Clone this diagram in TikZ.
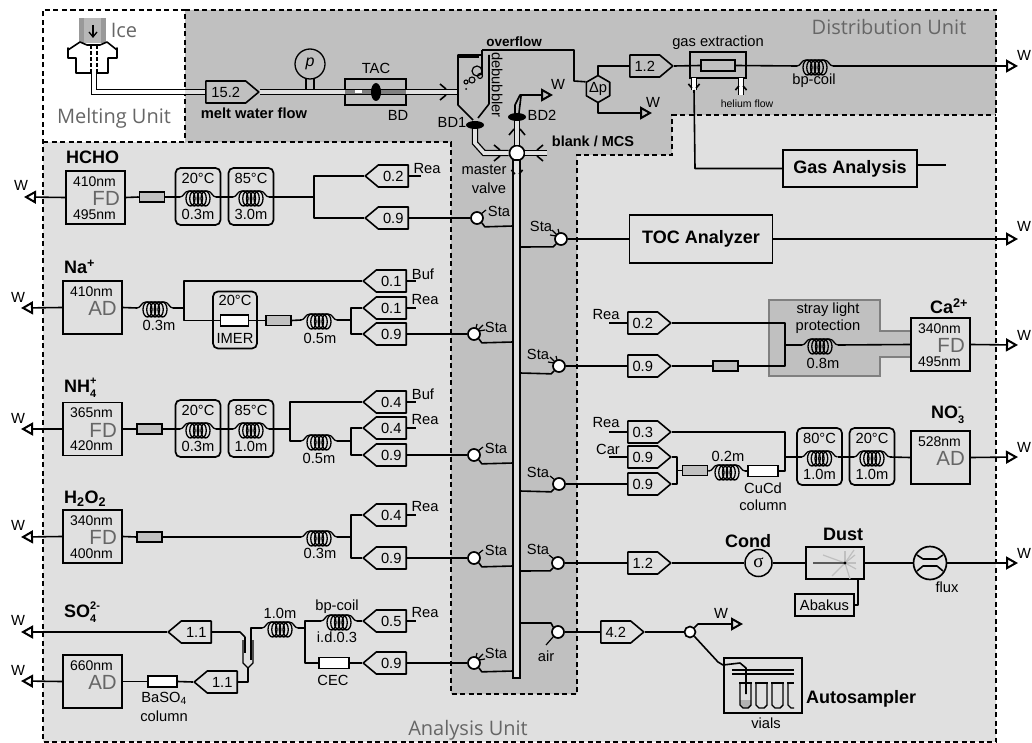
\documentclass[tikz,border=0pt]{standalone}
\usepackage{fontspec}
\setmainfont{Liberation Sans}
\newfontfamily\unitfont{Open Sans}
\newfontfamily\sigmafont{Liberation Serif}
\usetikzlibrary{arrows.meta,shapes.geometric,shapes.symbols}
\definecolor{bgA}{HTML}{E0E0E0}
\definecolor{bgB}{HTML}{C0C0C0}
\definecolor{greytext}{HTML}{666666}
\newcommand{\subsup}[2]{\rlap{\raisebox{8pt}{\fontsize{11}{12}\selectfont #2}}\raisebox{-4.5pt}{\fontsize{11}{12}\selectfont #1}}

\begin{document}
\begin{tikzpicture}[
    x=1pt, y=-1pt,
    flow/.style={line width=1.6pt, line join=round},
    waste/.style={flow, -{Triangle[open, length=12pt, width=13pt, line width=2pt]}},
    dbl/.style={draw=black, line width=1.3pt, double=#1, double distance=3.6pt},
    dbl/.default=bgA,
    unit/.style={line width=1.4pt, dash pattern=on 5pt off 3.5pt},
    unitname/.style={font=\unitfont\fontsize{20}{22}\selectfont, text=greytext, inner sep=0pt},
    txt/.style={font=\fontsize{14.7}{16}\selectfont, inner sep=0pt},
    bold/.style={font=\bfseries\fontsize{13.5}{15}\selectfont, inner sep=0pt},
    species/.style={font=\bfseries\fontsize{18}{19}\selectfont, inner sep=0pt, anchor=west},
    pumpr/.style={shape=signal, signal to=east, signal from=nowhere, signal pointer angle=80, draw, fill=bgA, flow, minimum width=43pt, minimum height=22pt, inner sep=0pt, anchor=west, font=\fontsize{14.7}{16}\selectfont},
    pumpl/.style={shape=signal, signal to=west, signal from=nowhere, signal pointer angle=80, draw, fill=bgA, flow, minimum width=43pt, minimum height=22pt, inner sep=0pt, anchor=east, font=\fontsize{14.7}{16}\selectfont},
    detbox/.style={draw, fill=bgA, line width=1.7pt, minimum width=59pt, minimum height=53pt, inner sep=0pt},
    heatbox/.style={draw, line width=1.7pt, rounded corners=5pt, minimum width=45pt, minimum height=57pt, inner sep=0pt},
    filterbox/.style={draw, fill=bgB, line width=1.5pt, minimum width=25pt, minimum height=10pt, inner sep=0pt},
    column/.style={draw, fill=white, line width=1.5pt, minimum width=28pt, minimum height=11pt, inner sep=0pt},
    bigbox/.style={draw, line width=1.7pt, inner sep=0pt, font=\bfseries\fontsize{18}{19}\selectfont},
    valve/.style={circle, draw, fill=white, line width=1.7pt, minimum size=12pt, inner sep=0pt},
    gauge/.style={circle, draw, line width=1.3pt, inner sep=0pt},
    bubbledet/.style={ellipse, fill=black, minimum width=18pt, minimum height=8pt, inner sep=0pt},
    coil/.pic={
        \coordinate (-w) at (-18,0);
        \coordinate (-e) at (18,0);
        \draw[line width=1.3pt] (-18,0) .. controls (-14,0) and (-14,-6) .. (-9,-6) -- (9,-6) .. controls (14,-6) and (14,0) .. (18,0);
        \foreach \dx in {-7.5,-3.75,0,3.75,7.5} {\draw[line width=1.3pt] (\dx,1.5) ellipse (4.5 and 7.5);}
    },
    fitting/.pic={
        \draw[flow] (-3,-8) -- (3,-3);
        \draw[flow] (-3,8) -- (3,3);
    },
    onetick/.pic={\draw[line width=1.2pt] (4,-4) -- (9,-8);},
    threeticks/.pic={
        \draw[line width=1.2pt] (4,-4) -- (9,-9);
        \draw[line width=1.2pt] (2,-6) -- (3,-10);
        \draw[line width=1.2pt] (5,-3) -- (11,-4);
    },
    pics/detector/.style n args={3}{code={
        \node[detbox] (-box) at (0,0) {};
        \node[font=\fontsize{14}{15}\selectfont, inner sep=0pt] (-top) at (-1,-16) {#1};
        \node[font=\fontsize{20.5}{22}\selectfont, text=greytext, inner sep=0pt, anchor=east] (-kind) at (24.5,1) {#2};
        \node[font=\fontsize{14}{15}\selectfont, inner sep=0pt] (-bot) at (-1,17) {#3};
    }},
    pics/heater/.style 2 args={code={
        \node[heatbox] (-box) at (0,-0.5) {};
        \node[txt] (-temp) at (0,-19) {#1};
        \pic (-c) at (0,0) {coil};
        \node[txt] (-len) at (0,17) {#2};
    }}
]
\useasboundingbox (0,0) rectangle (1032,743);

% unit areas
\fill[bgA] (43,142) rectangle (996,742);
\fill[bgA] (672,115) rectangle (996,142);
\fill[bgB] (185,10) -- (996,10) -- (996,115) -- (672,115) -- (672,155) -- (577,155) -- (577,694) -- (451,694) -- (451,142) -- (185,142) -- cycle;
\draw[unit] (185,10) -- (996,10) -- (996,742) -- (43,742) -- (43,10) -- (185,10) -- (185,142);
\draw[unit] (43,142) -- (451,142) -- (451,694) -- (577,694) -- (577,155) -- (672,155) -- (672,115) -- (996,115);
\node[unitname] at (114,118) (meltname) {Melting Unit};
\node[unitname] at (889,27) (distname) {Distribution Unit};
\node[unitname] at (468,730) (ananame) {Analysis Unit};

% melting device
\fill[black!40] (79,18) rectangle (106,43);
\fill[black!28] (84,18) rectangle (101,43);
\draw[line width=1.3pt, -{Straight Barb[length=5pt, width=8pt]}] (93,25) -- (93,38);
\node[unitname] at (124,30) (icename) {Ice};
\draw[flow, fill=white] (68,48) -- (68,58) -- (76,58) -- (76,73) -- (108,73) -- (108,58) -- (117,58) -- (117,48) -- (117,50) -- (107,42) -- (100,45) -- (87,45) -- (80,42) -- (68,50) -- cycle;
\draw[flow, dash pattern=on 4pt off 2pt] (91,45) -- (91,73);
\draw[flow, dash pattern=on 4pt off 2pt] (97,45) -- (97,73);

% melt water line
\node[pumpr, fill=bgB, minimum width=53pt] at (205,92) (meltpump) {15.2};
\coordinate (meltout) at (94,72);
\coordinate (meltcorner) at (94,92);
\draw[dbl=white] (meltout) -- (meltcorner) -- (185,92);
\draw[dbl=bgA] (185,92) -- (meltpump.west);
\node[bold, font=\bfseries\fontsize{14.7}{16}\selectfont] at (254,113) (meltname2) {melt water flow};
\node[circle, draw, line width=1.3pt, minimum size=30pt, inner sep=0pt, font=\itshape\fontsize{16}{17}\selectfont] at (310,64) (pgauge) {p};
\draw[line width=1.4pt] (306,78) -- (306,89);
\draw[line width=1.4pt] (314,78) -- (314,89);
\node[draw, line width=1.4pt, minimum width=61pt, minimum height=26pt, inner sep=0pt] at (375.5,92) (tac) {};
\coordinate (debin) at (458,92);
\draw[dbl=bgA] (meltpump.east) -- (debin);
\fill[black!50] (345,90) rectangle (406,94);
\fill[white] (355,90.5) rectangle (362,93.5);
\node[ellipse, fill=black, minimum width=10pt, minimum height=18pt, inner sep=0pt] at (376,92) (bdtac) {};
\node[txt] at (376,68) (tacname) {TAC};
\node[txt] at (398,115) (bdname) {BD};
\pic at (443,92) {fitting};

% debubbler
\node[bubbledet] at (475,125) (bda) {};
\node[bubbledet] at (517,117) (bdb) {};
\draw[flow] (482,75) -- (482,50);
\draw[line width=1.2pt] (458,57) -- (479,57);
\draw[flow] (473,120) -- (458,105) -- (458,55) -- (482,55);
\draw[flow] (489,55) -- (489,104) -- (478,118);
\draw[line width=1.2pt] (477,71) circle (5);
\draw[line width=1.1pt] (480,76) circle (2.5);
\draw[line width=1.1pt] (472,80) circle (3);
\draw[line width=1.1pt] (466,82) circle (2);
\fill (466,89) circle (1);
\node[txt] at (452,122) (bdaname) {BD1};
\node[txt] at (542,115) (bdbname) {BD2};
\node[txt, rotate=-90] at (497,85) (debname) {debubbler};
\node[bold] at (514,42) (overname) {overflow};

% master valve and bus
\node[circle, draw, fill=white, line width=1.7pt, minimum size=15pt, inner sep=0pt] at (517,153) (mv) {};
\node[draw, fill=bgA, line width=1.6pt, minimum width=7pt, minimum height=518pt, inner sep=0pt] at (516.5,419) (bus) {};
\draw[dbl] (bda.south) -- (475,143) -- (484,153) -- (mv.west);
\draw[dbl] (bdb.south) -- (mv.north);
\coordinate (blankin) at (547,153);
\draw[dbl] (blankin) -- (mv.east);
\pic at (497,153) {fitting};
\pic[rotate=90] at (517,132) {fitting};
\pic[rotate=-90, scale=0.7] at (517,172) {fitting};
\pic[rotate=180] at (540,153) {fitting};
\node[bold, font=\bfseries\fontsize{14.5}{15}\selectfont] at (593,141) (blankname) {blank / MCS};
\node[txt] at (484,170) (mastername) {master};
\node[txt] at (489,188) (valvename) {valve};
\coordinate (bdw) at (553,95);
\draw[waste] (515,113) -- (515,105) -- (520,95) -- (bdw);
\draw[flow] (519,113) -- (521,96);
\node[txt] at (558,84) (bdwname) {W};

% distribution branch
\node[regular polygon, regular polygon sides=6, shape border rotate=30, draw, flow, minimum size=27pt, inner sep=0pt] at (598,89) (dp) {};
\node[txt] at (598,89) (dpname) {Δp};
\coordinate (overa) at (482,50);
\coordinate (overb) at (574,50);
\coordinate (overc) at (574,81);
\draw[flow] (overa) -- (overb) -- (overc) -- (dp.150);
\node[pumpr, fill=bgB] at (629,66) (dpump) {1.2};
\draw[flow] (dp.north) |- (dpump.west);
\coordinate (dpw) at (652,113);
\draw[waste] (dp.south) |- (dpw);
\node[txt] at (653,102) (dpwname) {W};
\node[draw, line width=1.5pt, minimum width=56pt, minimum height=26pt, inner sep=0pt] at (718,65) (gasbox) {};
\node[draw, fill=bgB, line width=1.5pt, minimum width=34pt, minimum height=11pt, inner sep=0pt] at (718,65.5) (gasin) {};
\pic (gcoil) at (815,66) {coil};
\draw[flow] (dpump.east) -- (gasin.west);
\draw[flow] (gasin.east) -- (gcoil-w);
\coordinate (gasw) at (1018,66);
\draw[waste] (gcoil-e) -- (gasw);
\node[txt] at (1024,55) (gaswname) {W};
\node[txt] at (718,43) (gasname) {gas extraction};
\node[txt] at (814,81) (bpname) {bp-coil};
\node[font=\fontsize{10.5}{11}\selectfont, inner sep=0pt] at (747,104) (heliumname) {helium flow};
\coordinate (gasouta) at (694,78);
\coordinate (gasoutb) at (694,90);
\coordinate (gasinb) at (741,78);
\coordinate (gasinc) at (741,95);
\draw[dbl=white] (gasouta) -- (gasoutb);
\draw[dbl=white] (gasinb) -- (gasinc);
\pic[rotate=-90, scale=0.7] at (694,86) {fitting};
\pic[rotate=90, scale=0.7] at (741,88) {fitting};
\node[bigbox, minimum width=134pt, minimum height=37pt] at (850,168.5) (gas) {Gas Analysis};
\coordinate (gasstub) at (946,165);
\draw[flow] (gas.east |- gasstub) -- (gasstub);
\draw[flow] (gasoutb) -- (695,168.5) -- (gas.west);

% HCHO
\node[species] at (66,157) (hchoname) {HCHO};
\pic (hcho) at (95.5,197.5) {detector={410nm}{FD}{495nm}};
\coordinate (hchow) at (24,197);
\draw[waste] (hcho-box.west) -- (hchow);
\node[txt] at (21,185) (hchowname) {W};
\node[filterbox] at (152,197) (hchof) {};
\pic (hchoa) at (198,197) {heater={20°C}{0.3m}};
\pic (hchob) at (251,197) {heater={85°C}{3.0m}};
\draw[flow] (hcho-box.east) -- (hchof.west);
\draw[flow] (hchof.east) -- (hchoa-c-w);
\draw[flow] (hchoa-c-e) -- (hchob-c-w);
\coordinate (hchoj) at (314,197);
\draw[flow] (hchob-c-e) -- (hchoj);
\node[pumpl] at (409,176) (hchorea) {0.2};
\node[pumpl] at (409,218) (hchosam) {0.9};
\draw[flow] (hchoj) |- (hchorea.west);
\draw[flow] (hchoj) |- (hchosam.west);
\coordinate (hchostub) at (421,176);
\draw[flow] (hchorea.east) -- (hchostub);
\node[txt] at (427,169) (hchoreaname) {Rea};
\node[valve] at (477,218) (vhcho) {};
\draw[flow] (hchosam.east) -- (vhcho.west);
\coordinate (phcho) at (513,226);
\draw[flow] (vhcho.-45) -- ++(3,4) -- (phcho);
\pic at (477,218) {onetick};
\node[txt] at (499,211) (stahcho) {Sta};

% Na
\node[species] at (64,267) (naname) {Na\textsuperscript{+}};
\pic (na) at (92.5,307.5) {detector={410nm}{AD}{}};
\coordinate (naw) at (21,308);
\draw[waste] (na-box.west) -- (naw);
\node[txt] at (18,297) (nawname) {W};
\pic (naca) at (155,308) {coil};
\node[txt] at (159,325) (nacalen) {0.3m};
\coordinate (naj) at (184,308);
\draw[flow] (na-box.east) -- (naca-w);
\draw[flow] (naca-e) -- (naj);
\node[pumpl] at (407,281) (nabuf) {0.1};
\node[pumpl] at (407,308) (narea) {0.1};
\node[pumpl] at (407,334) (nasam) {0.9};
\node[heatbox, minimum width=44pt] at (235,320) (imerbox) {};
\node[column] at (234.5,320.5) (imer) {};
\node[txt] at (235,300) (imertemp) {20°C};
\node[txt] at (235,338) (imername) {IMER};
\node[filterbox] at (278.5,320.5) (naf) {};
\pic (nacb) at (319,320) {coil};
\node[txt] at (320,338) (nacblen) {0.5m};
\coordinate (nak) at (351,320);
\draw[flow] (naj) |- (nabuf.west);
\draw[flow] (naj) |- (imer.west);
\draw[flow] (imer.east) -- (naf.west);
\draw[flow] (naf.east) -- (nacb-w);
\draw[flow] (nacb-e) -- (nak);
\draw[flow] (nak) |- (narea.west);
\draw[flow] (nak) |- (nasam.west);
\coordinate (nabufstub) at (416,281);
\coordinate (nareastub) at (416,308);
\draw[flow] (nabuf.east) -- (nabufstub);
\draw[flow] (narea.east) -- (nareastub);
\node[txt] at (423,274) (nabufname) {Buf};
\node[txt] at (425,300) (nareaname) {Rea};
\node[valve] at (474,334) (vna) {};
\draw[flow] (nasam.east) -- (vna.west);
\coordinate (pna) at (513,342);
\draw[flow] (vna.-45) -- ++(3,4) -- (pna);
\pic at (474,334) {threeticks};
\node[txt] at (496,327) (stana) {Sta};

% NH4
\node[species] at (64,388) (nhname) {NH\subsup{4}{+}};
\pic (nh) at (92.5,429) {detector={365nm}{FD}{420nm}};
\coordinate (nhw) at (21,429);
\draw[waste] (nh-box.west) -- (nhw);
\node[txt] at (18,418) (nhwname) {W};
\node[filterbox] at (149.5,429) (nhf) {};
\pic (nha) at (198,429) {heater={20°C}{0.3m}};
\pic (nhb) at (251,429) {heater={85°C}{1.0m}};
\draw[flow] (nh-box.east) -- (nhf.west);
\draw[flow] (nhf.east) -- (nha-c-w);
\draw[flow] (nha-c-e) -- (nhb-c-w);
\coordinate (nhj) at (290,429);
\draw[flow] (nhb-c-e) -- (nhj);
\node[pumpl] at (407,402) (nhbuf) {0.4};
\node[pumpl] at (407,428) (nhrea) {0.4};
\node[pumpl] at (407,455) (nhsam) {0.9};
\pic (nhc) at (319,441) {coil};
\node[txt] at (319,458) (nhclen) {0.5m};
\coordinate (nhk) at (351,441);
\draw[flow] (nhj) |- (nhbuf.west);
\draw[flow] (nhj) |- (nhc-w);
\draw[flow] (nhc-e) -- (nhk);
\draw[flow] (nhk) |- (nhrea.west);
\draw[flow] (nhk) |- (nhsam.west);
\coordinate (nhbufstub) at (416,402);
\coordinate (nhreastub) at (416,428);
\draw[flow] (nhbuf.east) -- (nhbufstub);
\draw[flow] (nhrea.east) -- (nhreastub);
\node[txt] at (423,394) (nhbufname) {Buf};
\node[txt] at (425,420) (nhreaname) {Rea};
\node[valve] at (474,455) (vnh) {};
\draw[flow] (nhsam.east) -- (vnh.west);
\coordinate (pnh) at (513,463);
\draw[flow] (vnh.-45) -- ++(3,4) -- (pnh);
\pic at (474,455) {onetick};
\node[txt] at (496,448) (stanh) {Sta};

% H2O2
\node[species] at (64,499) (honame) {H\textsubscript{2}O\textsubscript{2}};
\pic (ho) at (92.5,536.5) {detector={340nm}{FD}{400nm}};
\coordinate (how) at (21,537);
\draw[waste] (ho-box.west) -- (how);
\node[txt] at (18,525) (howname) {W};
\node[filterbox] at (149.5,537) (hof) {};
\pic (hoc) at (319,537) {coil};
\node[txt] at (320,553) (hoclen) {0.3m};
\coordinate (hok) at (351,537);
\draw[flow] (ho-box.east) -- (hof.west);
\draw[flow] (hof.east) -- (hoc-w);
\draw[flow] (hoc-e) -- (hok);
\node[pumpl] at (407,515) (horea) {0.4};
\node[pumpl] at (407,558) (hosam) {0.9};
\draw[flow] (hok) |- (horea.west);
\draw[flow] (hok) |- (hosam.west);
\coordinate (horeastub) at (416,515);
\draw[flow] (horea.east) -- (horeastub);
\node[txt] at (425,507) (horeaname) {Rea};
\node[valve] at (474,558) (vho) {};
\draw[flow] (hosam.east) -- (vho.west);
\coordinate (pho) at (513,566);
\draw[flow] (vho.-45) -- ++(3,4) -- (pho);
\pic at (474,558) {onetick};
\node[txt] at (496,550) (staho) {Sta};

% SO4
\node[species] at (64,612) (soname) {SO\subsup{4}{2-}};
\node[pumpl] at (212,632) (soup) {1.1};
\coordinate (soupw) at (21,632);
\draw[waste] (soup.west) -- (soupw);
\node[txt] at (18,620) (soupwname) {W};
\pic (so) at (92.5,681.5) {detector={660nm}{AD}{}};
\coordinate (sow) at (21,681);
\draw[waste] (so-box.west) -- (sow);
\node[txt] at (18,670) (sowname) {W};
\node[column, minimum width=29pt] at (162.5,681.5) (baso) {};
\node[txt] at (164,698) (basoname) {BaSO\textsubscript{4}};
\node[txt] at (164,716) (basocol) {column};
\node[pumpl] at (238,682) (solow) {1.1};
\draw[flow] (so-box.east |- baso) -- (baso.west);
\draw[flow] (baso.east) -- (solow.west);
\coordinate (sepa) at (248,682);
\coordinate (sepb) at (248,668);
\draw[flow] (solow.east) -- (sepa) -- (sepb);
\draw[line width=1.1pt, fill=bgA] (243,640) -- (243,663) -- (248,668) -- (253,663) -- (253,640);
\draw[line width=2pt] (245,637) -- (245,653);
\draw[line width=2pt] (251,642) -- (251,660);
\coordinate (sepc) at (240,632);
\coordinate (sepd) at (245,637);
\draw[flow] (soup.east) -- (sepc) -- (sepd);
\coordinate (sepe) at (251,642);
\pic (soca) at (280,628) {coil};
\node[txt] at (280,613) (socalen) {1.0m};
\coordinate (sepf) at (251,628);
\draw[flow] (sepe) -- (sepf) -- (soca-w);
\coordinate (soj) at (305,628);
\draw[flow] (soca-e) -- (soj);
\pic (socb) at (339,621) {coil};
\node[txt] at (337,607) (socbname) {bp-coil};
\node[txt] at (337,637) (socbid) {i.d.0.3};
\node[column, minimum width=30pt] at (334,663) (cec) {};
\node[txt] at (333,680) (cecname) {CEC};
\draw[flow] (soj) |- (socb-w);
\draw[flow] (soj) |- (cec.west);
\node[pumpl] at (407,621) (sorea) {0.5};
\node[pumpl] at (407,663) (sosam) {0.9};
\draw[flow] (socb-e) -- (sorea.west);
\draw[flow] (cec.east) -- (sosam.west);
\coordinate (soreastub) at (416,621);
\draw[flow] (sorea.east) -- (soreastub);
\node[txt] at (425,613) (soreaname) {Rea};
\node[valve] at (474,663) (vso) {};
\draw[flow] (sosam.east) -- (vso.west);
\coordinate (pso) at (513,671);
\draw[flow] (vso.-45) -- ++(3,4) -- (pso);
\pic at (474,663) {threeticks};
\node[txt] at (496,653) (staso) {Sta};

% TOC
\node[bigbox, minimum width=143pt, minimum height=48pt] at (701,239) (toc) {TOC Analyzer};
\node[valve] at (561,239) (vtoc) {};
\draw[flow] (vtoc.east) -- (toc.west);
\coordinate (qtoc) at (520,247);
\draw[flow] (vtoc.-135) -- ++(-3,3) -- (qtoc);
\pic[xscale=-1] at (561,239) {threeticks};
\node[txt] at (541,226) (statoc) {Sta};
\coordinate (tocw) at (1018,239);
\draw[waste] (toc.east) -- (tocw);
\node[txt] at (1024,226) (tocwname) {W};

% Ca
\draw[line width=1.5pt, draw=black!50, fill=bgB] (769,300) -- (880,300) -- (880,331) -- (911,331) -- (911,357) -- (880,357) -- (880,376) -- (769,376) -- cycle;
\node[txt] at (828,310) (strayname) {stray light};
\node[txt] at (828,327) (protname) {protection};
\node[species] at (930,306) (caname) {Ca\textsuperscript{2+}};
\pic (ca) at (940.5,344.5) {detector={340nm}{FD}{495nm}};
\node[pumpr] at (627,323) (carea) {0.2};
\node[pumpr] at (627,366) (casam) {0.9};
\node[filterbox] at (725.5,366) (caf) {};
\pic (cac) at (820,345) {coil};
\node[txt] at (823,363) (caclen) {0.8m};
\coordinate (caj) at (785,345);
\coordinate (castub) at (609,323);
\draw[flow] (castub) -- (carea.west);
\node[txt] at (606,315) (careaname) {Rea};
\draw[flow] (carea.east) -| (caj);
\draw[flow] (casam.east) -- (caf.west);
\draw[flow] (caf.east) -| (caj);
\draw[flow] (caj) -- (cac-w);
\draw[flow] (cac-e) -- (ca-box.west);
\coordinate (caw) at (1018,345);
\draw[waste] (ca-box.east) -- (caw);
\node[txt] at (1024,335) (cawname) {W};
\node[valve] at (559,366) (vca) {};
\draw[flow] (vca.east) -- (casam.west);
\coordinate (qca) at (520,373);
\draw[flow] (vca.-135) -- ++(-3,3) -- (qca);
\pic[xscale=-1] at (559,366) {threeticks};
\node[txt] at (538,354) (staca) {Sta};

% NO3
\node[species] at (931,415) (noname) {NO\subsup{3}{-}};
\pic (no) at (940.5,457.5) {detector={528nm}{AD}{}};
\node[pumpr] at (627,432) (norea) {0.3};
\node[pumpr] at (627,457) (nocar) {0.9};
\node[pumpr] at (627,484) (nosam) {0.9};
\coordinate (noreastub) at (609,432);
\coordinate (nocarstub) at (609,457);
\draw[flow] (noreastub) -- (norea.west);
\draw[flow] (nocarstub) -- (nocar.west);
\node[txt] at (606,423) (noreaname) {Rea};
\node[txt] at (608,449) (nocarname) {Car};
\coordinate (noj) at (677,470.5);
\draw[flow] (nocar.east) -| (noj);
\draw[flow] (nosam.east) -| (noj);
\node[filterbox] at (695,470.5) (nof) {};
\pic (noc) at (727,471) {coil};
\node[txt] at (728,456) (noclen) {0.2m};
\node[column, minimum width=30pt] at (763,471) (cucd) {};
\node[txt] at (763,488) (cucdname) {CuCd};
\node[txt] at (763,505) (cucdcol) {column};
\draw[flow] (noj) -- (nof.west);
\draw[flow] (nof.east) -- (noc-w);
\draw[flow] (noc-e) -- (cucd.west);
\pic (noa) at (819.5,457) {heater={80°C}{1.0m}};
\pic (nob) at (872,457) {heater={20°C}{1.0m}};
\coordinate (nok) at (785,457);
\draw[flow] (norea.east) -| (nok);
\draw[flow] (cucd.east) -| (nok);
\draw[flow] (nok) -- (noa-c-w);
\draw[flow] (noa-c-e) -- (nob-c-w);
\draw[flow] (nob-c-e) -- (no-box.west);
\coordinate (now) at (1018,457);
\draw[waste] (no-box.east) -- (now);
\node[txt] at (1024,447) (nowname) {W};
\node[valve] at (559,484) (vno) {};
\draw[flow] (vno.east) -- (nosam.west);
\coordinate (qno) at (520,491);
\draw[flow] (vno.-135) -- ++(-3,3) -- (qno);
\pic[xscale=-1] at (559,484) {onetick};
\node[txt] at (538,472) (stano) {Sta};

% conductivity and dust
\node[valve] at (558,563) (vcond) {};
\coordinate (qcond) at (520,571);
\draw[flow] (vcond.-135) -- ++(-3,3) -- (qcond);
\pic[xscale=-1] at (558,563) {onetick};
\node[txt] at (538,549) (stacond) {Sta};
\node[pumpr] at (627,563) (condp) {1.2};
\draw[flow] (vcond.east) -- (condp.west);
\node[gauge, line width=1.5pt, minimum size=27pt, font=\sigmafont\fontsize{19}{20}\selectfont] at (758.5,563) (cond) {σ};
\node[species, anchor=center] at (748,541) (condname) {Cond};
\node[draw, line width=1.7pt, minimum width=58pt, minimum height=32pt, inner sep=0pt] at (835,563) (dust) {};
\node[species, anchor=center] at (843,534) (dustname) {Dust};
\draw[black!25, line width=1.2pt] (845,563) -- (823,555);
\draw[black!25, line width=1.2pt] (845,563) -- (832,576);
\draw[black!25, line width=1.2pt] (845,563) -- (854,550);
\draw[black!25, line width=1.2pt] (845,563) -- (856,563);
\draw[black!25, line width=1.2pt] (845,563) -- (856,569);
\draw[black!25, line width=1.2pt] (845,563) -- (850,579);
\draw[black!25, line width=1.2pt] (845,563) -- (845,551);
\draw[black!25, line width=1.2pt] (845,563) -- (855,555);
\draw[black!65, line width=1.2pt] (813,563) -- (845,563);
\fill (845,563) circle (1.6);
\node[gauge, line width=1.7pt, minimum size=33pt] at (930,563) (flux) {};
\begin{scope}[shift={(930,563)}]
\draw[flow] (-13,-8) -- (-7,-4) -- (7,-4) -- (13,-8);
\draw[flow] (-13,8) -- (-7,3) -- (7,3) -- (13,8);
\end{scope}
\node[txt] at (947,587) (fluxname) {flux};
\draw[flow] (condp.east) -- (cond.west);
\draw[flow] (cond.east) -- (dust.west);
\draw[flow] (dust.east) -- (flux.west);
\coordinate (fluxw) at (1018,563);
\draw[waste] (flux.east) -- (fluxw);
\node[txt] at (1024,553) (fluxwname) {W};
\node[draw, line width=1.7pt, minimum width=59pt, minimum height=22pt, inner sep=0pt, font=\fontsize{14.7}{16}\selectfont] at (824.5,605) (abakus) {Abakus};
\coordinate (dustout) at (858,579);
\coordinate (dustcorner) at (858,605);
\draw[flow] (dustout) -- (dustcorner) -- (abakus.east);

% autosampler
\node[valve] at (558,632) (vair) {};
\coordinate (qair) at (520,623);
\coordinate (airstick) at (546,645);
\draw[flow] (qair) -- (551,623) -- (vair.135);
\draw[line width=1.2pt] (vair.-135) -- (airstick);
\node[txt] at (546,656) (airname) {air};
\node[pumpr] at (600,632) (airp) {4.2};
\node[valve, minimum size=11pt] at (690,632) (vsel) {};
\draw[flow] (vair.east) -- (airp.west);
\draw[flow] (airp.east) -- (vsel.west);
\coordinate (selw) at (743,624);
\draw[waste] (vsel.45) -- (698,624) -- (selw);
\node[txt] at (721,613) (selwname) {W};
\node[draw, line width=1.7pt, minimum width=78pt, minimum height=55pt, inner sep=0pt] at (763,685.5) (auto) {};
\draw[line width=1.2pt] (732,670) -- (794,670);
\draw[line width=1.2pt] (732,674) -- (794,674);
\fill[black!30] (740,700) -- (751,700) -- (751,705) -- (748,708) -- (743,708) -- (740,705) -- cycle;
\draw[line width=1.4pt] (740,684) -- (740,705) -- (743,708) -- (748,708) -- (751,705) -- (751,684);
\draw[line width=1.4pt] (756,684) -- (756,705) -- (759,708) -- (764,708) -- (767,705) -- (767,684);
\draw[line width=1.4pt] (772,684) -- (772,705) -- (775,708) -- (780,708) -- (783,705) -- (783,684);
\draw[line width=1.4pt] (788,684) -- (788,705) -- (791,708) -- (794,708);
\draw[line width=2.6pt] (739,683) -- (752,683);
\draw[line width=2.6pt] (755,683) -- (768,683);
\draw[line width=2.6pt] (771,683) -- (784,683);
\draw[line width=2.6pt] (787,683) -- (794,683);
\coordinate (needle) at (746,694);
\draw[flow] (vsel.-45) -- (718,662) -- (723,665) -- (740,663) -- (746,668) -- (needle);
\node[species, anchor=west] at (806,699) (autoname) {Autosampler};
\node[txt] at (766,723) (vialname) {vials};
\end{tikzpicture}
\end{document}
